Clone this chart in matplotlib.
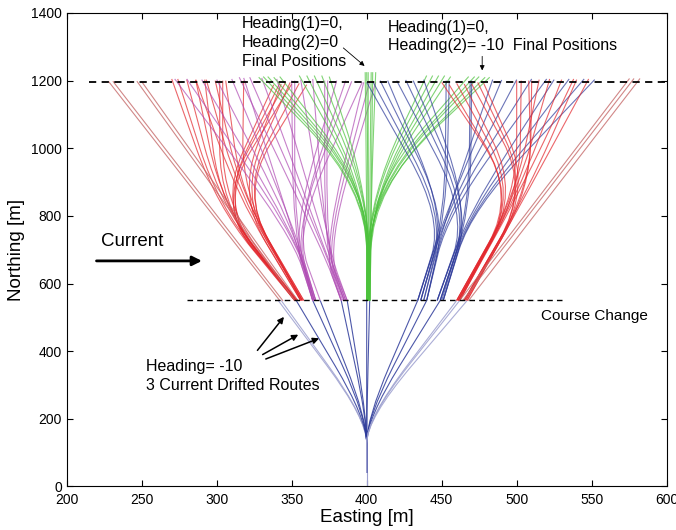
import matplotlib
matplotlib.use("Agg")
import matplotlib.pyplot as plt
from matplotlib.path import Path
from matplotlib.patches import PathPatch

plt.rcParams['font.family'] = ['Liberation Sans', 'DejaVu Sans']

# first leg: all routes leave (400, 0) and reach the course change line
leg1_start_y = 40
leg1_bend_y = 200
leg1_end_x = [341, 343, 353, 364, 369, 383, 387, 400, 402, 434, 440, 449, 460, 462, 467]
leg1_light = [341, 343, 460, 462, 467]
course_change_y = 550

# second leg routes: (start x at 550, bend x, bend y, end x, end y)
red_w_long = [(342, 228), (344, 231), (352, 247), (354, 250)]
red_w_routes = [
    (352, 301, 830, 338, 1188), (353, 302, 835, 342, 1192), (354, 300, 825, 346, 1195),
    (353, 301, 835, 350, 1190),
    (352, 302, 840, 302, 1200), (353, 304, 845, 304, 1200),
    (352, 300, 830, 270, 1205), (353, 301, 830, 274, 1205), (354, 302, 835, 280, 1203),
    (352, 303, 840, 286, 1202), (353, 302, 835, 292, 1203),
    (356, 314, 860, 343, 1190), (357, 315, 865, 349, 1195), (358, 316, 870, 355, 1192),
    (357, 316, 870, 360, 1188),
    (357, 316, 870, 306, 1200), (356, 317, 875, 318, 1200),
    (356, 314, 860, 286, 1203), (357, 315, 865, 293, 1203), (358, 316, 870, 299, 1200),
]
magenta_routes = [
    (364, 351, 750, 350, 1200), (365, 352, 755, 352, 1200),
    (364, 350, 745, 272, 1205), (365, 351, 750, 280, 1205), (366, 351, 750, 290, 1203),
    (364, 352, 755, 300, 1203), (366, 352, 760, 310, 1205), (365, 351, 750, 318, 1208),
    (364, 350, 745, 380, 1200), (365, 351, 750, 390, 1198), (366, 352, 755, 397, 1195),
    (369, 352, 760, 386, 1200),
    (383, 372, 700, 372, 1200), (385, 373, 705, 374, 1200),
    (383, 371, 695, 315, 1210), (384, 372, 700, 322, 1210), (385, 372, 700, 330, 1208),
    (386, 373, 705, 340, 1205), (387, 374, 710, 356, 1203), (386, 373, 705, 364, 1205),
    (383, 371, 695, 398, 1195), (385, 372, 700, 402, 1198), (387, 373, 705, 406, 1195),
]
green_routes = [
    (400, 400, 860, 399, 1225), (401, 401, 860, 400, 1225), (401, 401, 860, 401, 1225),
    (402, 402, 860, 403, 1225), (402, 403, 860, 404, 1225), (402, 403, 860, 406, 1225),
    (400, 400, 880, 328, 1210), (401, 400, 880, 331, 1212), (402, 401, 880, 334, 1212),
    (400, 401, 880, 338, 1210), (401, 401, 880, 342, 1212),
    (400, 400, 860, 355, 1215), (401, 400, 860, 360, 1215), (402, 401, 860, 365, 1215),
    (402, 401, 860, 370, 1215), (401, 401, 860, 375, 1212),
    (400, 402, 860, 440, 1215), (401, 402, 860, 444, 1215), (402, 403, 860, 448, 1215),
    (402, 403, 860, 452, 1215), (401, 403, 860, 456, 1212),
    (400, 402, 880, 468, 1212), (401, 403, 880, 472, 1212), (402, 403, 880, 475, 1212),
    (402, 404, 880, 479, 1210), (401, 403, 880, 482, 1210),
]
blue_routes = [
    (434, 452, 800, 453, 1200), (436, 453, 805, 455, 1200),
    (434, 451, 795, 400, 1195), (436, 452, 800, 404, 1198), (440, 453, 805, 409, 1200),
    (438, 452, 800, 414, 1200),
    (434, 452, 800, 490, 1202), (436, 452, 800, 500, 1203), (440, 453, 805, 510, 1205),
    (440, 454, 805, 520, 1205), (438, 453, 800, 484, 1203),
    (447, 468, 810, 469, 1200), (449, 469, 815, 470, 1200),
    (447, 467, 805, 420, 1200), (449, 468, 810, 426, 1202), (451, 469, 815, 431, 1200),
    (450, 468, 812, 438, 1203),
    (447, 468, 810, 525, 1203), (449, 469, 815, 535, 1205), (451, 469, 815, 545, 1205),
    (451, 470, 820, 552, 1203),
]
red_e_long = [(462, 575), (464, 578), (468, 582)]
red_e_routes = [
    (460, 499, 860, 455, 1188), (461, 500, 865, 460, 1192), (462, 501, 870, 465, 1190),
    (461, 500, 865, 450, 1195),
    (460, 500, 865, 500, 1200), (461, 502, 870, 503, 1200),
    (460, 499, 860, 515, 1203), (461, 500, 865, 522, 1205), (462, 501, 870, 530, 1203),
    (462, 502, 870, 538, 1205),
    (465, 508, 880, 470, 1190), (467, 509, 885, 478, 1192), (466, 508, 882, 474, 1195),
    (465, 509, 885, 510, 1200), (466, 510, 885, 508, 1200),
    (465, 508, 880, 540, 1203), (467, 509, 885, 548, 1205),
]

BLUE = '#2d3a9a'
BLUE_LIGHT = '#9c9fcf'
RED = '#e3262c'
RED_LIGHT = '#c66a6a'
MAGENTA = '#b04cb4'
GREEN = '#4cc23c'


def bend_path(sx, sy, vx, vy, ex, ey, f):
    # straight - rounded corner - straight
    p1 = (vx + f * (sx - vx), vy + f * (sy - vy))
    p2 = (vx + f * (ex - vx), vy + f * (ey - vy))
    verts = [(sx, sy), p1, (vx, vy), p2, (ex, ey)]
    codes = [Path.MOVETO, Path.LINETO, Path.CURVE3, Path.CURVE3, Path.LINETO]
    return Path(verts, codes)


def draw_routes(ax, routes, color, f, lw=0.8, alpha=0.7):
    for sx, vx, vy, ex, ey in routes:
        p = bend_path(sx, course_change_y, vx, vy, ex, ey, f)
        ax.add_patch(PathPatch(p, fill=False, edgecolor=color, lw=lw, alpha=alpha))


fig = plt.figure(figsize=(6.76, 5.30), dpi=100)
ax = fig.add_axes([0.0987, 0.0821, 0.8875, 0.8934])

# first leg
ax.plot([400, 400], [0, leg1_start_y], color=BLUE_LIGHT, lw=0.8)
for ex in leg1_end_x:
    col = BLUE_LIGHT if ex in leg1_light else BLUE
    p = bend_path(400, leg1_start_y, 400, leg1_bend_y, ex, course_change_y, 0.45)
    ax.add_patch(PathPatch(p, fill=False, edgecolor=col, lw=0.8, alpha=0.85))

# second leg
for sx, ex in red_w_long:
    ax.plot([sx, ex], [course_change_y, 1197], color=RED_LIGHT, lw=0.8, alpha=0.8)
for sx, ex in red_e_long:
    ax.plot([sx, ex], [course_change_y, 1205], color=RED_LIGHT, lw=0.8, alpha=0.8)
draw_routes(ax, red_w_routes, RED, 0.45)
draw_routes(ax, magenta_routes, MAGENTA, 0.5)
draw_routes(ax, green_routes, GREEN, 0.55)
draw_routes(ax, blue_routes, BLUE, 0.45)
draw_routes(ax, red_e_routes, RED, 0.45)

# reference lines
ax.plot([215, 600], [1197, 1197], color='black', ls=(0, (4, 3)), lw=1.3)
ax.plot([280, 530], [550, 550], color='black', ls=(0, (4, 3)), lw=1.0)

# annotations
ax.text(317, 1390, 'Heading(1)=0,\nHeading(2)=0\nFinal Positions', fontsize=11.5,
        va='top', ha='left', linespacing=1.3)
ax.annotate('', xy=(400, 1238), xytext=(383, 1302),
            arrowprops=dict(arrowstyle='-|>', color='black', lw=0.6, mutation_scale=7))
ax.text(414, 1380, 'Heading(1)=0,\nHeading(2)= -10  Final Positions', fontsize=11.5,
        va='top', ha='left', linespacing=1.3)
ax.annotate('', xy=(477, 1222), xytext=(477, 1280),
            arrowprops=dict(arrowstyle='-|>', color='black', lw=0.6, mutation_scale=7))
ax.text(223, 725, 'Current', fontsize=13.5, va='center', ha='left')
ax.annotate('', xy=(292, 667), xytext=(218, 667),
            arrowprops=dict(arrowstyle='-|>', color='black', lw=2, mutation_scale=14))
ax.text(516, 503, 'Course Change', fontsize=11, va='center', ha='left')
ax.text(253, 355, 'Heading= -10', fontsize=11.5, va='center', ha='left')
ax.text(253, 300, '3 Current Drifted Routes', fontsize=11.5, va='center', ha='left')
for tail, head in [((326, 396), (346, 508)), ((329, 386), (356, 453)), ((331, 374), (370, 441))]:
    ax.annotate('', xy=head, xytext=tail,
                arrowprops=dict(arrowstyle='-|>', color='black', lw=1.1, mutation_scale=9))

ax.set_xlim(200, 600)
ax.set_ylim(0, 1400)
ax.set_xticks(range(200, 601, 50))
ax.set_yticks(range(0, 1401, 200))
ax.tick_params(direction='in', top=True, right=True, length=4, labelsize=10)
ax.tick_params(axis='x', pad=5)
ax.set_xlabel('Easting [m]', fontsize=13.5, labelpad=1)
ax.set_ylabel('Northing [m]', fontsize=13.5, labelpad=4)

fig.savefig('out.png', dpi=100)
